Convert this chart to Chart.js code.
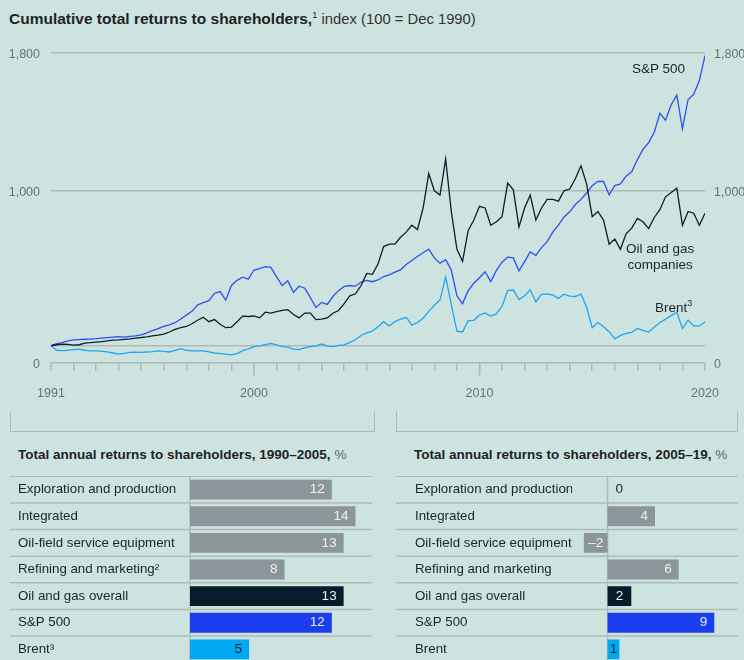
<!DOCTYPE html>
<html>
<head>
<meta charset="utf-8">
<script src="https://cdn.jsdelivr.net/npm/chart.js@4.4.0/dist/chart.umd.min.js"></script>
<style>
  body { margin: 0; width: 744px; height: 660px; overflow: hidden; background: #cde3df;
         font-family: "Liberation Sans", Arial, sans-serif; color: #1d2327; position: relative; }
  .abs { position: absolute; white-space: nowrap; }
  canvas { position: absolute; }
  .bracket { position: absolute; top: 411px; height: 20px; border: 1.5px solid #afbbb9; border-top: none; }
  .sub { font-size: 13.5px; font-weight: bold; }
  .sub span { font-weight: normal; color: #5d6668; }
  .note { font-size: 13.5px; line-height: 16px; text-align: center; }
</style>
</head>
<body>

<div class="abs" style="left:9px;top:5px;font-size:15.5px;line-height:20px">
  <b>Cumulative total returns to shareholders,</b><sup style="font-size:9px">1</sup> <span style="color:#333;font-size:14.8px">index (100 = Dec 1990)</span>
</div>

<canvas id="lines" width="744" height="410" style="left:0;top:0"></canvas>

<div class="abs note" style="left:632px;top:61px">S&amp;P 500</div>
<div class="abs note" style="left:626px;top:241px">Oil and gas<br>companies</div>
<div class="abs note" style="left:655px;top:295px">Brent<sup style="font-size:9px">3</sup></div>

<div class="bracket" style="left:10px;width:363px"></div>
<div class="bracket" style="left:396px;width:340px"></div>

<div class="abs sub" style="left:18px;top:447px">Total annual returns to shareholders, 1990–2005, <span>%</span></div>
<div class="abs sub" style="left:414px;top:447px">Total annual returns to shareholders, 2005–19, <span>%</span></div>

<canvas id="early" width="362" height="187" style="left:10px;top:476px"></canvas>
<canvas id="late" width="342" height="187" style="left:396px;top:476px"></canvas>

<script>
// quarterly readings, Dec 1990 = 100
const quarters = Array.from({ length: 117 }, (_, i) => 1991 + i / 4);

const sp500 = [
  100, 112, 118, 128,   134, 136, 138, 139,   141, 144, 147, 150,   153, 150, 155, 158,
  163, 175, 188, 200,   212, 222, 234, 255,   278, 300, 337, 350,   362, 405, 415, 365,
  450, 480, 498, 487,   540, 548, 560, 555,   502, 450, 478, 410,   446, 434, 380, 322,
  352, 340, 386, 420,   445, 450, 446, 470,   480, 472, 482, 502,   512, 528, 541, 572,
  595, 618, 640, 661,   610, 580, 600, 540,   390, 345, 420, 463,   495, 530, 473, 538,
  585, 615, 610, 535,   589, 645, 625, 670,   705, 760, 800, 848,   878, 920, 950, 987,
  1030, 1055, 1054, 977, 1030, 1040, 1085, 1110, 1180, 1240, 1280, 1340, 1450, 1410, 1500, 1555,
  1360, 1530, 1560, 1640, 1785
];

const oilGas = [
  100, 106, 110, 108,   104, 106, 116, 118,   121, 124, 128, 133,   134, 137, 140, 145,
  148, 152, 157, 162,   168, 180, 195, 205,   212, 228, 248, 266,   240, 252, 225, 205,
  208, 240, 272, 270,   273, 262, 295, 290,   298, 305, 310, 282,   262, 290, 290, 252,
  255, 262, 289, 305,   345, 390, 402, 450,   520, 515, 575, 676,   690, 690, 730, 760,
  800, 775, 900, 1100,  1000, 975, 1185, 880, 660, 590, 770, 830,   910, 900, 800, 820,
  850, 1045, 1006, 790, 900, 975, 830, 900,   950, 950, 940, 1000,  1010, 1070, 1145, 1040,
  850, 880, 830, 690,   720, 660, 750, 783,   840, 820, 780, 845,   890, 965, 990, 1015,
  800, 880, 870, 800,   870
];

const brent = [
  100, 74, 72, 74,      78, 80, 74, 70,       70, 68, 64, 58,       52, 56, 62, 63,
  62, 64, 66, 70,       68, 64, 74, 83,       74, 70, 70, 70,       64, 58, 54, 52,
  47, 55, 72, 82,       95, 100, 106, 114,    105, 96, 92, 80,      78, 88, 95, 100,
  110, 98, 95, 102,     105, 120, 135, 160,   175, 185, 210, 240,   215, 240, 255, 265,
  220, 235, 260, 300,   335, 366, 500, 340,   185, 180, 246, 248,   279, 290, 272, 285,
  330, 420, 425, 368,   390, 425, 355, 400,   400, 395, 375, 400,   388, 386, 400, 325,
  205, 235, 210, 182,   140, 160, 172, 178,   200, 190, 180, 208,   235, 255, 275, 295,
  200, 250, 215, 215,   238
];

const yTicks = [0, 100, 1000, 1800];
const xLabelYears = [1991, 2000, 2010, 2020];
const majorYears = [2000, 2010];

const segments = [
  'Exploration and production', 'Integrated', 'Oil-field service equipment',
  'Refining and marketing²', 'Oil and gas overall', 'S&P 500', 'Brent³'
];
const segmentsLate = [
  'Exploration and production', 'Integrated', 'Oil-field service equipment',
  'Refining and marketing', 'Oil and gas overall', 'S&P 500', 'Brent'
];
const returns1990_2005 = [12, 14, 13, 8, 13, 12, 5];
const returns2005_19 = [0, 4, -2, 6, 2, 9, 1];

const GRID = '#afbbb9';
const AXIS_TEXT = '#697274';
const DARK = '#1d2327';
const barColors = ['#8b969b', '#8b969b', '#8b969b', '#8b969b', '#051c2c', '#1a3ded', '#00a8f3'];

const toPoints = arr => arr.map((v, i) => ({ x: quarters[i], y: v }));

const majorTicks = {
  id: 'majorTicks',
  afterDraw(chart) {
    const x = chart.scales.x, ctx = chart.ctx, b = chart.chartArea.bottom;
    ctx.save();
    ctx.strokeStyle = GRID;
    ctx.lineWidth = 1.5;
    majorYears.forEach(v => {
      const px = x.getPixelForValue(v);
      ctx.beginPath(); ctx.moveTo(px, b); ctx.lineTo(px, b + 13); ctx.stroke();
    });
    ctx.restore();
  }
};

const fmt = v => v === 100 ? '' : v.toLocaleString('en-US');

new Chart(document.getElementById('lines'), {
  type: 'line',
  data: {
    datasets: [
      { label: 'Oil and gas companies', data: toPoints(oilGas), borderColor: '#0b1e2d', order: 0 },
      { label: 'S&P 500', data: toPoints(sp500), borderColor: '#2c4ff0', order: 1 },
      { label: 'Brent', data: toPoints(brent), borderColor: '#1fa6f2', order: 2 }
    ]
  },
  options: {
    responsive: false,
    animation: false,
    devicePixelRatio: 1,
    layout: { padding: { top: 53, left: 0, right: 0, bottom: 0 } },
    elements: { line: { borderWidth: 1.3, tension: 0 }, point: { radius: 0 } },
    plugins: { legend: { display: false }, tooltip: { enabled: false } },
    scales: {
      x: {
        type: 'linear', min: 1991, max: 2020,
        grid: { drawOnChartArea: false, drawTicks: true, tickLength: 8, color: GRID, lineWidth: 1.5 },
        border: { display: true, color: GRID, width: 1.5 },
        ticks: {
          stepSize: 1, autoSkip: false, maxRotation: 0, padding: 15, color: AXIS_TEXT,
          font: { size: 12.5, family: 'Liberation Sans' },
          callback: v => xLabelYears.includes(v) ? String(v) : ''
        },
        afterFit: s => { s.height = 47; }
      },
      y: {
        min: 0, max: 1800,
        afterBuildTicks: s => { s.ticks = yTicks.map(v => ({ value: v })); },
        grid: { drawTicks: false, color: c => c.tick && c.tick.value === 0 ? 'rgba(0,0,0,0)' : GRID, lineWidth: 1.5 },
        border: { display: false },
        ticks: { padding: 11, labelOffset: 2, color: AXIS_TEXT, font: { size: 12.5, family: 'Liberation Sans' }, callback: fmt },
        afterFit: s => { s.width = 51; }
      },
      y2: {
        position: 'right', min: 0, max: 1800,
        afterBuildTicks: s => { s.ticks = yTicks.map(v => ({ value: v })); },
        grid: { display: false, drawTicks: false },
        border: { display: false },
        ticks: { padding: 9, labelOffset: 2, color: AXIS_TEXT, font: { size: 12.5, family: 'Liberation Sans' }, callback: fmt },
        afterFit: s => { s.width = 39; }
      }
    }
  },
  plugins: [majorTicks]
});

// row rules, zero line and value labels for the bar panels
const rowRules = {
  id: 'rowRules',
  beforeDatasetsDraw(chart) {
    const y = chart.scales.y, x = chart.scales.x, ctx = chart.ctx, n = chart.data.labels.length;
    const h = (chart.chartArea.bottom - chart.chartArea.top) / n;
    ctx.save();
    ctx.strokeStyle = GRID;
    ctx.lineWidth = 1.5;
    for (let i = 0; i <= n; i++) {
      const py = y.getPixelForValue(Math.min(i, n - 1)) + (i === n ? h / 2 : -h / 2);
      ctx.beginPath(); ctx.moveTo(0, py); ctx.lineTo(chart.width, py); ctx.stroke();
    }
    const px = x.getPixelForValue(0);
    ctx.beginPath(); ctx.moveTo(px, chart.chartArea.top); ctx.lineTo(px, chart.chartArea.bottom); ctx.stroke();
    ctx.restore();
  },
  afterDatasetsDraw(chart) {
    const ctx = chart.ctx, ds = chart.data.datasets[0];
    const bars = chart.getDatasetMeta(0).data;
    ctx.save();
    ctx.font = '13.5px "Liberation Sans"';
    ctx.textBaseline = 'middle';
    bars.forEach((bar, i) => {
      const v = ds.data[i];
      const txt = v < 0 ? '–' + Math.abs(v) : String(v);
      const light = ds.backgroundColor[i] === '#00a8f3';
      ctx.fillStyle = light ? DARK : '#eef2f2';
      const w = Math.abs(bar.x - bar.base);
      if (v === 0) {
        ctx.fillStyle = DARK; ctx.textAlign = 'left';
        ctx.fillText(txt, bar.base + 8, bar.y);
      } else if (w < 30) {
        ctx.textAlign = 'center';
        ctx.fillText(txt, (bar.x + bar.base) / 2, bar.y);
      } else {
        ctx.textAlign = 'right';
        ctx.fillText(txt, bar.x - 7, bar.y);
      }
    });
    ctx.restore();
  }
};

function barPanel(id, labels, values, min, max, padLeft, axisWidth) {
  new Chart(document.getElementById(id), {
    type: 'bar',
    data: {
      labels: labels,
      datasets: [{ data: values, backgroundColor: barColors, categoryPercentage: 1, barPercentage: 0.75 }]
    },
    options: {
      indexAxis: 'y',
      responsive: false,
      animation: false,
      devicePixelRatio: 1,
      layout: { padding: { left: padLeft, top: 0, right: 0, bottom: 0 } },
      plugins: { legend: { display: false }, tooltip: { enabled: false } },
      scales: {
        x: { display: false, min: min, max: max },
        y: {
          grid: { display: false }, border: { display: false },
          ticks: { crossAlign: 'far', padding: 0, color: DARK, font: { size: 13.3, family: 'Liberation Sans', lineHeight: 0.05 } },
          afterFit: s => { s.width = axisWidth; }
        }
      }
    },
    plugins: [rowRules]
  });
}

barPanel('early', segments, returns1990_2005, 0, 15.4, 8, 172);
barPanel('late', segmentsLate, returns2005_19, -3, 11, 19, 157);
</script>
</body>
</html>
